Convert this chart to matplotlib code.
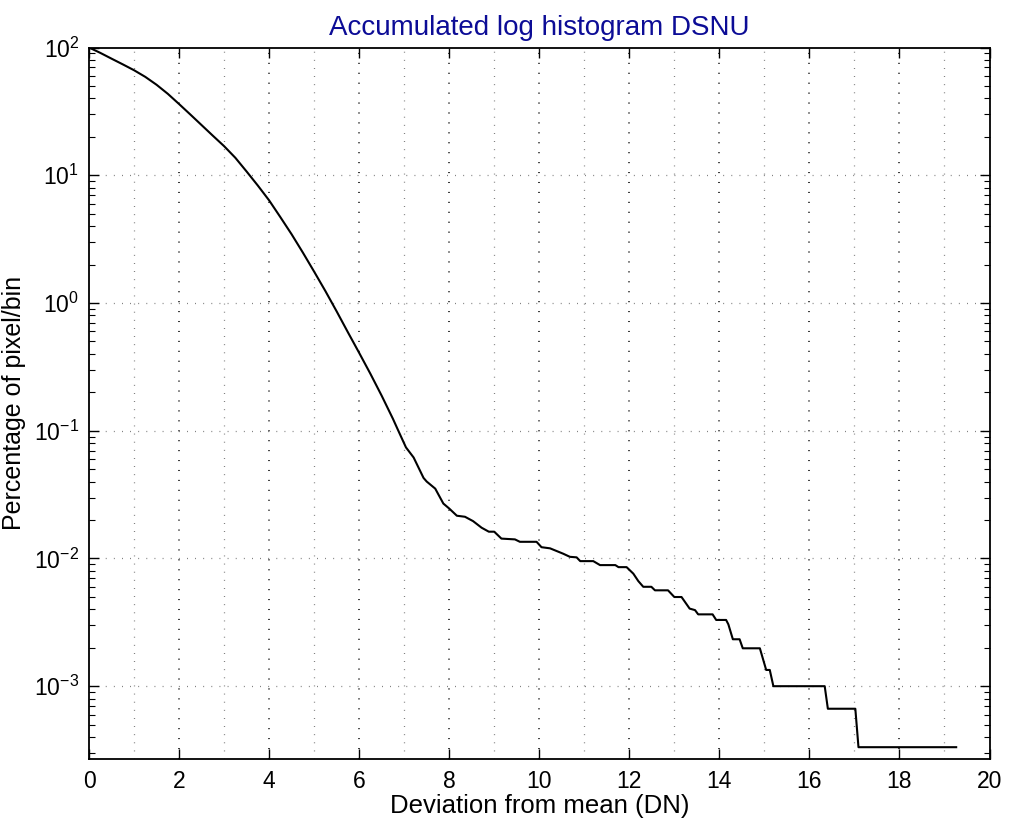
import matplotlib
matplotlib.use("Agg")
import matplotlib.pyplot as plt
from matplotlib.ticker import LogLocator, FixedLocator, NullFormatter

plt.rcParams['font.family'] = ['Liberation Sans', 'DejaVu Sans']
plt.rcParams['mathtext.fontset'] = 'custom'
plt.rcParams['mathtext.rm'] = 'Liberation Sans'
plt.rcParams['mathtext.it'] = 'Liberation Sans'
plt.rcParams['mathtext.bf'] = 'Liberation Sans'

title = "Accumulated log histogram DSNU"
xlabel = "Deviation from mean (DN)"
ylabel = "Percentage of pixel/bin"

deviation = [0.0, 0.25, 0.5, 0.75, 1.0, 1.25, 1.5, 1.75, 2.0, 2.25, 2.5, 2.75, 3.0,
             3.25, 3.5, 3.75, 4.0, 4.25, 4.5, 4.75, 5.0, 5.25, 5.5, 5.75, 6.0,
             6.25, 6.5, 6.75, 6.87, 7.04, 7.21, 7.43,
             7.5, 7.69, 7.87, 8.0, 8.17, 8.35, 8.53, 8.72, 8.88, 9.0, 9.16, 9.46,
             9.57, 9.94, 10.05, 10.24, 10.53, 10.68, 10.83, 10.91, 11.2, 11.35,
             11.69, 11.76, 11.94, 12.09, 12.2, 12.31, 12.49, 12.57, 12.86, 13.0,
             13.16, 13.34, 13.46, 13.53, 13.85, 13.93, 14.15, 14.2, 14.3, 14.45,
             14.52, 14.9, 15.04, 15.12, 15.2, 16.34, 16.41, 17.02, 17.09, 19.26]
percentage = [100, 90.8, 81.8, 73.8, 66.4, 58.9, 51.1, 43.4, 36.1, 29.9, 24.7, 20.4, 16.9,
              13.7, 10.7, 8.3, 6.36, 4.70, 3.45, 2.48, 1.76, 1.24, 0.86, 0.59, 0.407,
              0.279, 0.188, 0.124, 0.1, 0.074, 0.0617, 0.0427,
              0.040, 0.0352, 0.0269, 0.0246, 0.0216, 0.0212, 0.0196, 0.0174, 0.0162, 0.0162,
              0.0143, 0.0141, 0.0135, 0.0135, 0.01225, 0.0120, 0.0109, 0.0103, 0.0102,
              0.00953, 0.00953, 0.00887, 0.00887, 0.00855, 0.00855, 0.0076, 0.00665,
              0.0060, 0.0060, 0.00563, 0.00563, 0.00499, 0.00499, 0.00405, 0.00394,
              0.00365, 0.00365, 0.0033, 0.0033, 0.00305, 0.00233, 0.00233, 0.00198,
              0.00198, 0.00134, 0.00134, 0.001, 0.001, 0.000666, 0.000666, 0.000333,
              0.000333]

xticks = [0, 2, 4, 6, 8, 10, 12, 14, 16, 18, 20]
yticks = [1e-3, 1e-2, 1e-1, 1e0, 1e1, 1e2]
ytick_labels = [r'$10^{-3}$', r'$10^{-2}$', r'$10^{-1}$', r'$10^{0}$', r'$10^{1}$', r'$10^{2}$']

fig = plt.figure(figsize=(10.13, 8.19), dpi=100)
ax = fig.add_axes([89 / 1013, 1 - 759 / 819, (989.5 - 89) / 1013, (759 - 47.5) / 819])

ax.plot(deviation, percentage, color='black', lw=1.5, zorder=3)
ax.set_yscale('log')
ax.set_xlim(0, 20)
ax.set_ylim(10 ** -3.57, 100)

ax.set_xticks(xticks)
ax.set_xticklabels([str(t) for t in xticks])
ax.set_yticks(yticks)
ax.set_yticklabels(ytick_labels)
ax.yaxis.set_minor_locator(LogLocator(base=10, subs=range(2, 10), numticks=20))
ax.yaxis.set_minor_formatter(NullFormatter())
ax.xaxis.set_minor_locator(FixedLocator(list(range(1, 20, 2))))

dots = (0, (0.7, 5.8))
for t in range(1, 20):
    strong = (t % 2 == 0)
    ax.axvline(t, color='black' if strong else '#707070', lw=1.1 if strong else 0.9,
               linestyle=dots, zorder=1)
for yt in yticks[:-1]:
    ax.axhline(yt, color='#707070', lw=0.9, linestyle=dots, zorder=1)

ax.tick_params(axis='both', which='major', direction='in', length=7, width=1.0,
               top=True, right=True, labelsize=16.5, colors='black')
ax.tick_params(axis='x', which='major', pad=8)
ax.tick_params(axis='y', which='major', pad=7)
ax.tick_params(axis='y', which='minor', direction='in', length=4, width=0.8,
               left=True, right=True)
ax.tick_params(axis='x', which='minor', length=0)

for s in ax.spines.values():
    s.set_linewidth(1.3)
    s.set_color('black')

ax.set_title(title, fontsize=20, color='#0c0c96', pad=9)
ax.set_xlabel(xlabel, fontsize=18.5, labelpad=1)
ax.set_ylabel(ylabel, fontsize=18, labelpad=6)

fig.savefig('out.png', dpi=100, facecolor='white')
